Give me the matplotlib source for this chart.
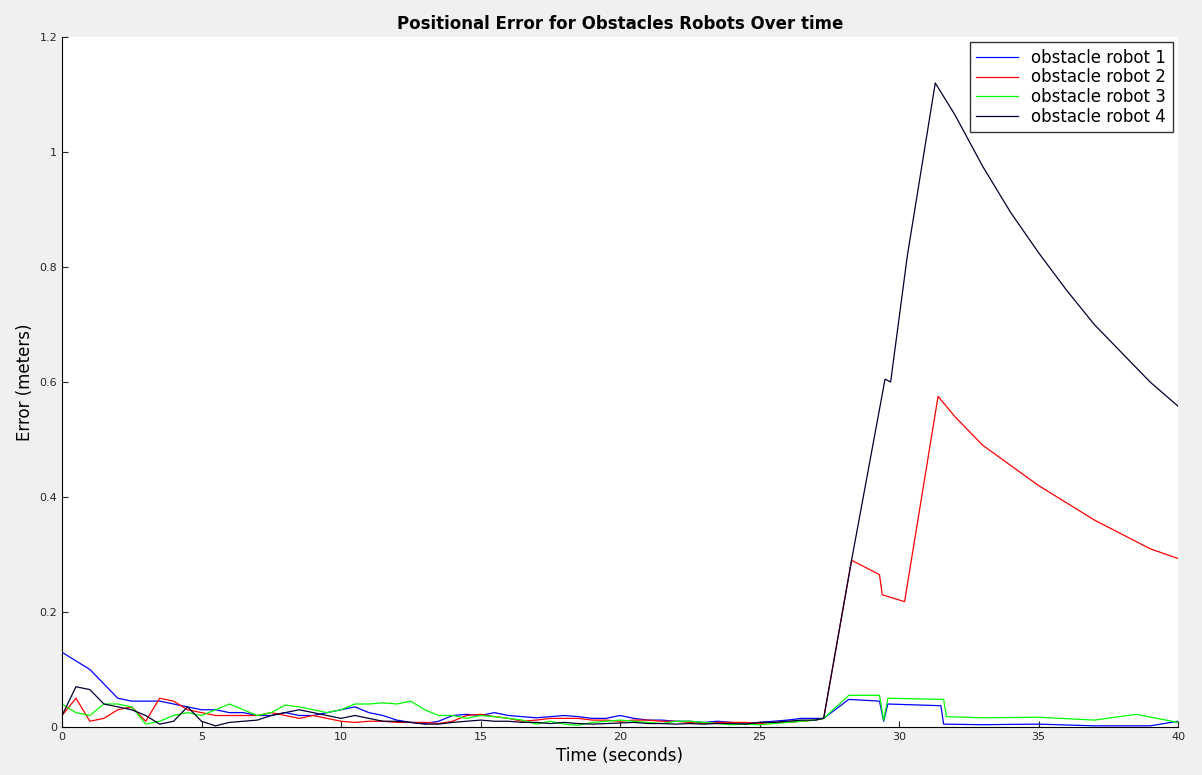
import matplotlib
matplotlib.use("Agg")
import matplotlib.pyplot as plt
import numpy as np

# early part sampled every 0.5 s from 0 to 27
t_early = np.arange(0, 27.01, 0.5)

r1_early = [0.13, 0.115, 0.10, 0.075, 0.05, 0.045, 0.045, 0.045, 0.04, 0.035, 0.03, 0.03, 0.025,
            0.025, 0.02, 0.02, 0.025, 0.02, 0.02, 0.025, 0.03, 0.035, 0.025, 0.02, 0.012, 0.008,
            0.006, 0.01, 0.02, 0.022, 0.02, 0.025, 0.02, 0.018, 0.016, 0.018, 0.02, 0.018, 0.015,
            0.015, 0.02, 0.015, 0.012, 0.012, 0.01, 0.01, 0.008, 0.01, 0.008, 0.006, 0.008, 0.01,
            0.012, 0.015, 0.015]
r2_early = [0.02, 0.05, 0.01, 0.015, 0.03, 0.035, 0.01, 0.05, 0.045, 0.03, 0.025, 0.02, 0.02,
            0.02, 0.02, 0.025, 0.02, 0.015, 0.02, 0.015, 0.01, 0.008, 0.01, 0.01, 0.008, 0.008,
            0.008, 0.006, 0.01, 0.02, 0.022, 0.018, 0.015, 0.01, 0.012, 0.015, 0.015, 0.015, 0.012,
            0.012, 0.01, 0.012, 0.012, 0.01, 0.01, 0.008, 0.006, 0.008, 0.008, 0.008, 0.006, 0.008,
            0.008, 0.01, 0.012]
r3_early = [0.04, 0.025, 0.02, 0.04, 0.04, 0.035, 0.005, 0.01, 0.02, 0.025, 0.02, 0.03, 0.04,
            0.03, 0.02, 0.025, 0.038, 0.035, 0.03, 0.025, 0.03, 0.04, 0.04, 0.042, 0.04, 0.045,
            0.03, 0.02, 0.02, 0.015, 0.02, 0.018, 0.015, 0.012, 0.005, 0.01, 0.005, 0.003, 0.008,
            0.01, 0.012, 0.01, 0.008, 0.006, 0.01, 0.01, 0.008, 0.006, 0.004, 0.005, 0.004, 0.006,
            0.008, 0.01, 0.012]
r4_early = [0.02, 0.07, 0.065, 0.04, 0.035, 0.03, 0.02, 0.005, 0.01, 0.035, 0.01, 0.002, 0.008,
            0.01, 0.012, 0.02, 0.025, 0.03, 0.025, 0.02, 0.015, 0.02, 0.015, 0.01, 0.01, 0.008,
            0.005, 0.005, 0.008, 0.01, 0.012, 0.01, 0.01, 0.008, 0.008, 0.006, 0.008, 0.006, 0.005,
            0.006, 0.007, 0.008, 0.006, 0.006, 0.005, 0.006, 0.005, 0.006, 0.006, 0.005, 0.008,
            0.008, 0.01, 0.012, 0.012]

# later part
r1_tail_t = [27.3, 28.2, 29.3, 29.45, 29.6, 31.5, 31.6, 33, 35, 37, 39, 40]
r1_tail = [0.015, 0.048, 0.045, 0.01, 0.04, 0.037, 0.005, 0.004, 0.005, 0.002, 0.002, 0.01]
r2_tail_t = [27.3, 28.3, 29.3, 29.4, 30.2, 31.4, 32, 33, 34, 35, 36, 37, 38, 39, 40]
r2_tail = [0.015, 0.29, 0.265, 0.23, 0.218, 0.575, 0.54, 0.49, 0.455, 0.42, 0.39, 0.36, 0.335, 0.31, 0.293]
r3_tail_t = [27.3, 28.2, 29.3, 29.45, 29.6, 31.6, 31.7, 33, 35, 37, 38.5, 40]
r3_tail = [0.015, 0.055, 0.055, 0.012, 0.05, 0.048, 0.018, 0.016, 0.017, 0.012, 0.022, 0.008]
r4_tail_t = [27.3, 28.3, 29.5, 29.7, 30.3, 31.3, 32, 33, 34, 35, 36, 37, 38, 39, 40]
r4_tail = [0.015, 0.29, 0.605, 0.6, 0.82, 1.12, 1.065, 0.975, 0.895, 0.825, 0.76, 0.70, 0.65, 0.60, 0.558]

series = [("obstacle robot 1", r1_early, r1_tail_t, r1_tail, "#0000ff"),
          ("obstacle robot 2", r2_early, r2_tail_t, r2_tail, "#ff0000"),
          ("obstacle robot 3", r3_early, r3_tail_t, r3_tail, "#00ff00"),
          ("obstacle robot 4", r4_early, r4_tail_t, r4_tail, "#000033")]

fig = plt.figure(figsize=(12.02, 7.75), dpi=100, facecolor="#f0f0f0")
ax = fig.add_axes([62/1202, 48/775, 1116/1202, 690/775])
for label, early, tt, tail, color in series:
    x = np.concatenate([t_early, tt])
    y = np.concatenate([early, tail])
    ax.plot(x, y, color=color, linewidth=0.9, label=label)

ax.set_xlim(0, 40)
ax.set_ylim(0, 1.2)
ax.set_xticks(range(0, 41, 5))
ax.set_yticks(np.arange(0, 1.21, 0.2))
ax.set_yticklabels(["0", "0.2", "0.4", "0.6", "0.8", "1", "1.2"])
ax.tick_params(direction="in", labelsize=8, length=4, colors="#262626")
for s in ["top", "right"]:
    ax.spines[s].set_visible(False)
ax.set_xlabel("Time (seconds)", fontsize=12)
ax.set_ylabel("Error (meters)", fontsize=12)
ax.set_title("Positional Error for Obstacles Robots Over time", fontsize=12, fontweight="bold")
leg = ax.legend(loc="upper right", fontsize=12, fancybox=False, handlelength=2.5,
                borderaxespad=0.3, labelspacing=0.1)
leg.get_frame().set_edgecolor("black")
fig.savefig("out.png", dpi=100, facecolor=fig.get_facecolor())
